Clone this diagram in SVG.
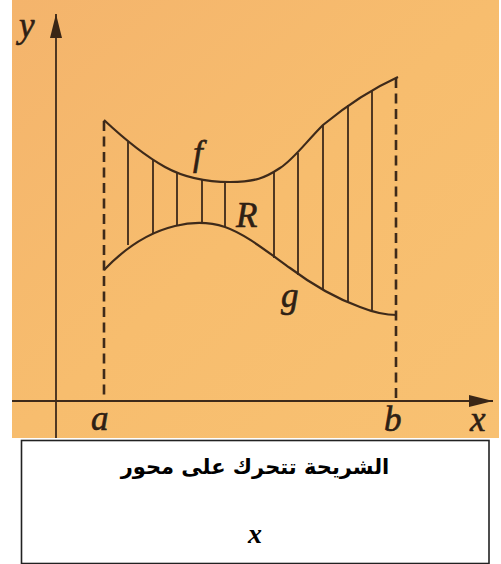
<svg xmlns="http://www.w3.org/2000/svg" width="501" height="564" viewBox="0 0 501 564">
  <defs>
    <linearGradient id="bg" x1="0" y1="0" x2="1" y2="1">
      <stop offset="0" stop-color="#F4B46C"/>
      <stop offset="0.5" stop-color="#F7BD6E"/>
      <stop offset="1" stop-color="#F8C172"/>
    </linearGradient>
    <marker id="arr" viewBox="0 0 24 12" refX="24" refY="6" markerWidth="24" markerHeight="12" markerUnits="userSpaceOnUse" orient="auto">
      <path d="M0,0 L24,6 L0,12 Z" fill="#3a2616"/>
    </marker>
    <style>
      .ln { stroke: #3e2a1a; fill: none; stroke-width: 2.2; }
      .ax { stroke: #3e2a1a; fill: none; stroke-width: 1.8; }
      .dash { stroke: #3e2a1a; fill: none; stroke-width: 2.6; stroke-dasharray: 10 5.5; }
      .hatch { stroke: #3e2a1a; stroke-width: 1.8; }
      .lbl { font-family: "Liberation Serif", "DejaVu Serif", serif; font-style: italic; font-size: 35px; fill: #2e2014; stroke: #2e2014; stroke-width: 0.6; }
      .ar { font-family: "DejaVu Sans", "Noto Sans", sans-serif; font-weight: bold; font-size: 21px; fill: #000; }
      .bx { font-family: "Liberation Serif", serif; font-weight: bold; font-style: italic; font-size: 28px; fill: #000; }
    </style>
  </defs>

  <rect x="0" y="0" width="501" height="564" fill="#ffffff"/>
  <rect x="12" y="0" width="487" height="438" fill="url(#bg)"/>

  <g id="connectors">
    <line id="y-axis" class="ax" x1="56" y1="438" x2="56" y2="14" marker-end="url(#arr)"/>
    <line id="x-axis" class="ax" x1="12" y1="401" x2="493" y2="401" marker-end="url(#arr)"/>
    <line id="dash-a" class="dash" x1="104" y1="121" x2="104" y2="401"/>
    <line id="dash-b" class="dash" x1="396" y1="78" x2="396" y2="401"/>
    <g id="hatching">
      <line class="hatch" x1="128" y1="142" x2="128" y2="245"/>
      <line class="hatch" x1="153" y1="160" x2="153" y2="233"/>
      <line class="hatch" x1="177" y1="173" x2="177" y2="226"/>
      <line class="hatch" x1="202" y1="180" x2="202" y2="222"/>
      <line class="hatch" x1="225" y1="182" x2="225" y2="227"/>
      <line class="hatch" x1="274" y1="172" x2="274" y2="258"/>
      <line class="hatch" x1="298" y1="153" x2="298" y2="275"/>
      <line class="hatch" x1="323" y1="125" x2="323" y2="290"/>
      <line class="hatch" x1="348" y1="105" x2="348" y2="302"/>
      <line class="hatch" x1="372" y1="90" x2="372" y2="310"/>
    </g>
  </g>

  <g id="curve-f">
    <path class="ln" d="M104,120 C120,135 140,153 165,167 C185,178 205,182 230,182 C255,182 265,178 280,168 C293,160 306,142 323,125 C340,111 365,92 398,77"/>
    <text class="lbl" x="193" y="165">f</text>
  </g>
  <g id="curve-g">
    <path class="ln" d="M104,270 C125,248 150,232 175,226 C195,221 210,222 225,227 C245,234 265,250 290,268 C310,283 335,298 360,307 C375,313 385,315 397,315"/>
    <text class="lbl" x="281" y="307">g</text>
  </g>
  <g id="region-R">
    <text class="lbl" x="236" y="227">R</text>
  </g>
  <g id="labels">
    <text class="lbl" x="19" y="37">y</text>
    <text class="lbl" x="91" y="430">a</text>
    <text class="lbl" x="384" y="431">b</text>
    <text class="lbl" x="470" y="431">x</text>
  </g>

  <g id="caption">
    <rect x="21.5" y="440.5" width="467.5" height="123" fill="#ffffff" stroke="#222" stroke-width="1.6"/>
    <text class="ar" x="255" y="474" text-anchor="middle" direction="rtl">الشريحة تتحرك على محور</text>
    <text class="bx" x="255" y="543" text-anchor="middle">x</text>
  </g>
</svg>
